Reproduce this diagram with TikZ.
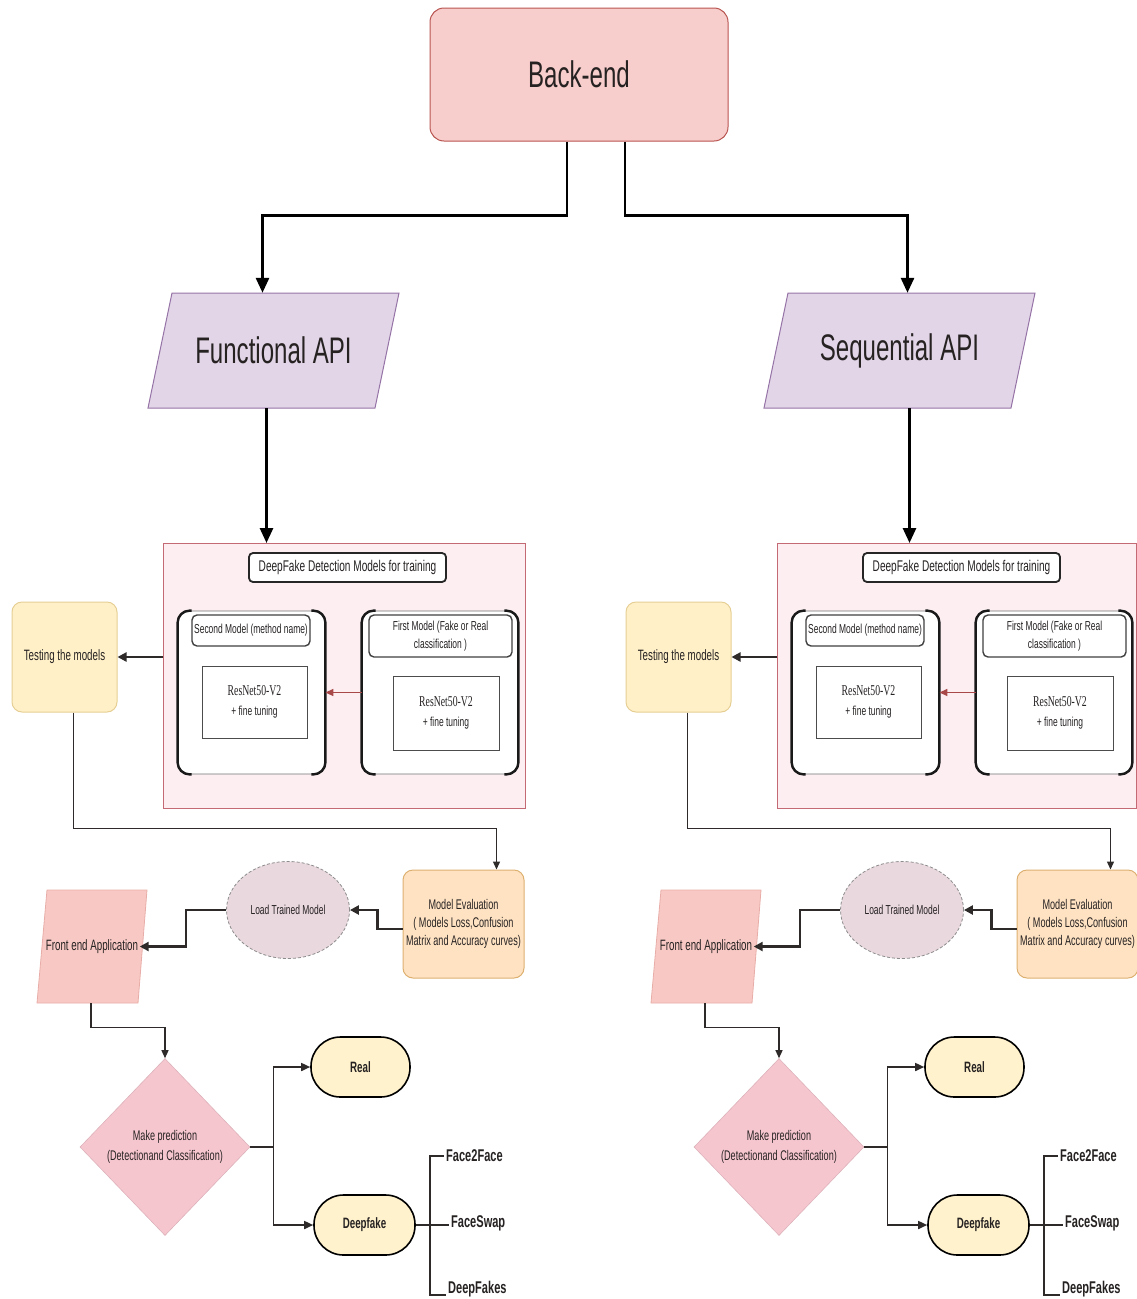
\documentclass[tikz,border=0pt]{standalone}
\usepackage{fontspec}
\setmainfont{Liberation Sans}[FakeStretch=0.65]
\newfontfamily\resfont{Liberation Serif}[FakeStretch=0.65]
\usetikzlibrary{arrows.meta,shapes.geometric}

\definecolor{beFill}{HTML}{F8CECC}
\definecolor{beLine}{HTML}{B85450}
\definecolor{apiFill}{HTML}{E1D5E7}
\definecolor{apiLine}{HTML}{9673A6}
\definecolor{trFill}{HTML}{FCEEF1}
\definecolor{trLine}{HTML}{C46A74}
\definecolor{tsFill}{HTML}{FFF0C8}
\definecolor{tsLine}{HTML}{E6CF94}
\definecolor{evFill}{HTML}{FEE2C2}
\definecolor{evLine}{HTML}{DDB070}
\definecolor{ldFill}{HTML}{E9D8DE}
\definecolor{feFill}{HTML}{F8C9C4}
\definecolor{feLine}{HTML}{E8ADA8}
\definecolor{dmFill}{HTML}{F6C6CF}
\definecolor{lfFill}{HTML}{FFF2CC}
\definecolor{redArrow}{HTML}{A84848}
\definecolor{darkLine}{HTML}{2E2A2A}
\definecolor{ink}{HTML}{262222}

\tikzset{
  txt/.style={text=ink, align=center, inner sep=0pt},
  big/.style={font=\fontsize{37}{44}\selectfont},
  backend/.style={txt, big, rectangle, rounded corners=14, fill=beFill, draw=beLine,
    line width=1, minimum width=298, minimum height=133},
  apitext/.style={txt, big, minimum height=115},
  apishape/.style={fill=apiFill, draw=apiLine, line width=1},
  trainbox/.style={rectangle, fill=trFill, draw=trLine, line width=1.2,
    anchor=north west, minimum height=265},
  titlebox/.style={txt, font=\fontsize{15.5}{18}\selectfont, rectangle, rounded corners=4,
    fill=white, draw=black!85, line width=1.8, minimum width=197, minimum height=29},
  modelbox/.style={rectangle, rounded corners=12, fill=white, draw=black!55,
    line width=0.8, minimum height=163},
  sideline/.style={line width=2.4, black!90, rounded corners=12},
  headbox/.style={txt, font=\fontsize{13}{18}\selectfont, rectangle, rounded corners=5,
    fill=white, draw=black!75, line width=1.4},
  resbox/.style={txt, font=\fontsize{13}{20}\selectfont, rectangle, fill=white,
    draw=black!70, line width=1},
  testbox/.style={txt, font=\fontsize{15}{18}\selectfont, rectangle, rounded corners=10,
    fill=tsFill, draw=tsLine, line width=1, minimum width=105, minimum height=110},
  evalbox/.style={txt, font=\fontsize{14}{18}\selectfont, rectangle, rounded corners=10,
    fill=evFill, draw=evLine, line width=1, minimum width=121, minimum height=108},
  loadnode/.style={txt, font=\fontsize{13}{16}\selectfont, ellipse, fill=ldFill,
    draw=black!45, dash pattern=on 3pt off 2pt, line width=0.8,
    minimum width=123, minimum height=97},
  frontshape/.style={fill=feFill, draw=feLine, line width=0.8},
  fronttext/.style={txt, font=\fontsize{15}{18}\selectfont},
  decision/.style={txt, font=\fontsize{14}{20}\selectfont, diamond, fill=dmFill,
    draw=dmFill!90!black, line width=0.6, minimum width=170, minimum height=177},
  leaf/.style={txt, font=\fontsize{15}{18}\selectfont\bfseries, rectangle, rounded corners=29.5,
    fill=lfFill, draw=black, line width=1.6, minimum height=60},
  variant/.style={txt, font=\fontsize{17}{20}\selectfont\bfseries, inner sep=2pt},
  bigarrow/.style={line width=2.8, black, -{Triangle[length=15,width=13]}},
  darkarrow/.style={line width=2.5, darkLine, -{Triangle[length=9,width=9]}},
  thinarrow/.style={line width=1.3, darkLine, -{Triangle[length=8,width=7]}},
  redarrow/.style={line width=1.4, redArrow, -{Triangle[length=8,width=7]}},
  midline/.style={line width=1.6, darkLine},
  midarrow/.style={line width=1.6, darkLine, -{Triangle[length=9,width=8]}},
}

% One processing branch: API, training models, testing, evaluation and prediction.
% #1 name prefix, #2 API label, #3 API centre x, #4 API half width,
% #5 training box width, #6 x offset of the API outlet
\newcommand\pipeline[6]{%
  \begin{scope}[name prefix=#1-]
    \path[apishape] ({#3-#4+12},293) -- ({#3+#4+12},293) -- ({#3+#4-12},408)
      -- ({#3-#4-12},408) -- cycle;
    \node[apitext, minimum width={2*#4}] (api) at (#3,350.5) {#2};

    \node[trainbox, minimum width=#5] (train) at (163,543) {};
    \draw[bigarrow] ([xshift=#6]api.south) -- ([xshift=#6]api.south |- train.north);
    \node[titlebox] (title) at (347.5,567.5) {DeepFake Detection Models for training};

    \node[modelbox, minimum width=147] (second) at (251.5,692.5) {};
    \draw[sideline] ([xshift=14]second.north west) -- (second.north west)
      -- (second.south west) -- ([xshift=14]second.south west);
    \draw[sideline] ([xshift=-14]second.north east) -- (second.north east)
      -- (second.south east) -- ([xshift=-14]second.south east);
    \node[modelbox, minimum width=156] (first) at (440,692.5) {};
    \draw[sideline] ([xshift=14]first.north west) -- (first.north west)
      -- (first.south west) -- ([xshift=14]first.south west);
    \draw[sideline] ([xshift=-14]first.north east) -- (first.north east)
      -- (first.south east) -- ([xshift=-14]first.south east);

    \node[headbox, minimum width=118, minimum height=31] (secondhead) at (251,630.5)
      {Second Model (method name)};
    \node[headbox, minimum width=143, minimum height=42] (firsthead) at (440.5,636)
      {First Model (Fake or Real\\classification )};
    \node[resbox, minimum width=105, minimum height=72] (secondres) at (254.5,702)
      {{\resfont\fontsize{15}{20}\selectfont ResNet50-V2}\\+ fine tuning};
    \node[resbox, minimum width=106, minimum height=74] (firstres) at (446,713)
      {{\resfont\fontsize{15}{20}\selectfont ResNet50-V2}\\+ fine tuning};
    \draw[redarrow] (first.west) -- (second.east);

    \node[testbox] (testing) at (64.5,657) {Testing the models};
    \draw[darkarrow] (testing.east -| train.west) -- (testing.east);

    \node[evalbox] (eval) at (463.5,924)
      {Model Evaluation\\( Models Loss,Confusion\\Matrix and Accuracy curves)};
    \draw[thinarrow] ([xshift=9]testing.south) -- ++(0,116) -| ([xshift=33]eval.north);

    \node[loadnode] (load) at (288,910) {Load Trained Model};
    \draw[darkarrow] ([yshift=-5]eval.west) -- ++(-25,0) |- (load.east);

    \path[frontshape] (47,890) -- (147,890) -- (138,1003) -- (37,1003) -- cycle;
    \node[fronttext, minimum width=101, minimum height=113] (front) at (92,946.5)
      {Front end Application};
    \draw[darkarrow] (load.west) -- ++(-40,0) |- ([xshift=-3]front.east);

    \node[decision] (predict) at (165,1147)
      {Make prediction\\(Detectionand Classification)};
    \draw[thinarrow] ([xshift=-1]front.south) -- ++(0,24) -| (predict.north);

    \node[leaf, minimum width=99] (real) at (360.5,1067) {Real};
    \node[leaf, minimum width=101] (fake) at (364.5,1225) {Deepfake};
    \draw[midline] (predict.east) -- ++(23,0) coordinate (split);
    \draw[midarrow] (split) |- (real.west);
    \draw[midarrow] (split) |- (fake.west);

    \node[variant, anchor=west] (f2f) at (444,1156) {Face2Face};
    \node[variant, anchor=west] (fswap) at (449,1223) {FaceSwap};
    \node[variant, anchor=west] (dfakes) at (446,1289) {DeepFakes};
    \draw[midline] (fake.east) -- (fake.east -| fswap.west);
    \draw[midline] (f2f.west) -- ++(-14,0) |- ([yshift=-6]dfakes.west);
  \end{scope}}

\begin{document}
\begin{tikzpicture}[x=1pt,y=-1pt]
  \useasboundingbox (0,0) rectangle (1137,1299);

  \node[backend] (backend) at (579,74.5) {Back-end};

  \begin{scope}
    \pipeline{L}{Functional API}{273.5}{113.5}{362}{-7}
  \end{scope}
  \begin{scope}[xshift=614]
    \pipeline{R}{Sequential API}{285.5}{123.5}{359}{10}
  \end{scope}

  \draw[bigarrow] ([xshift=-12]backend.south) -- ++(0,74) -| ([xshift=-11]L-api.north);
  \draw[bigarrow] ([xshift=46]backend.south) -- ++(0,74) -| ([xshift=8]R-api.north);
\end{tikzpicture}
\end{document}
